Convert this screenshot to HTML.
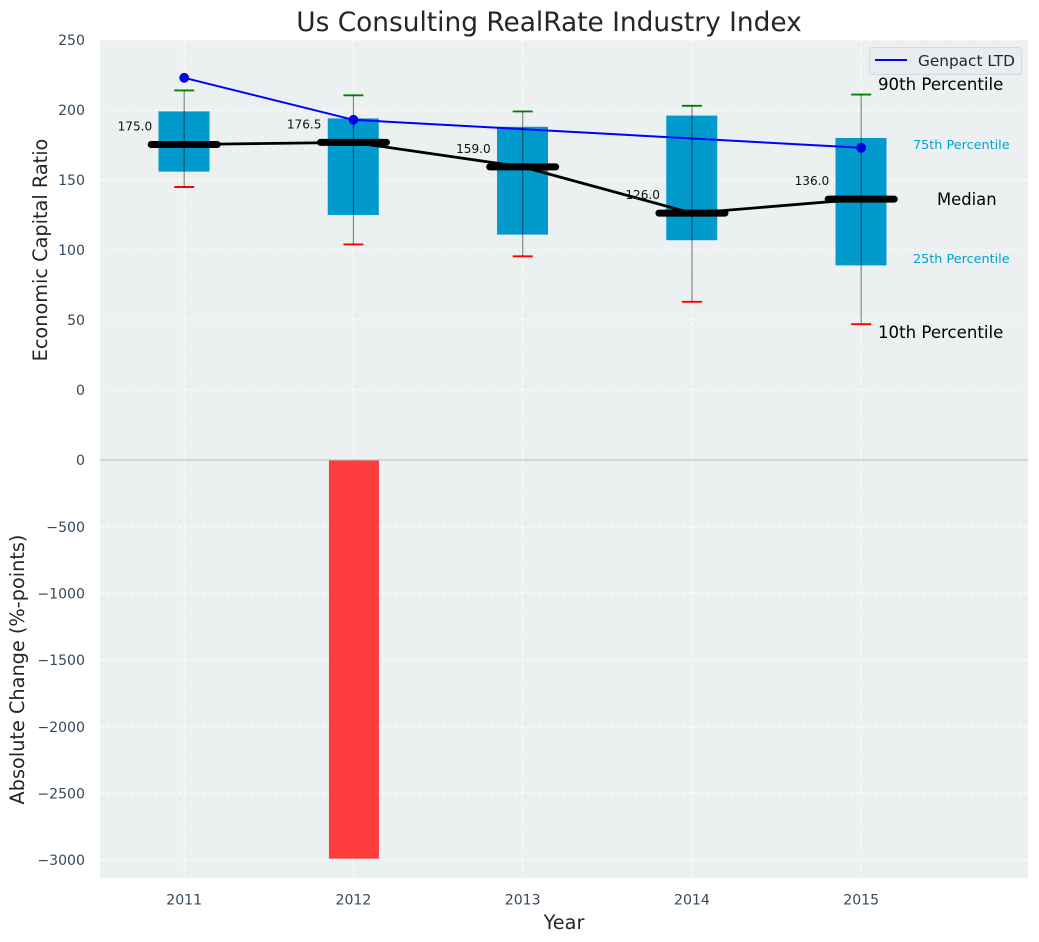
<!DOCTYPE html>
<html>
<head>
<meta charset="utf-8">
<title>Us Consulting RealRate Industry Index</title>
<style>
html,body{margin:0;padding:0;background:#fff;}
svg{display:block;font-family:"DejaVu Sans","Liberation Sans",sans-serif;}
</style>
</head>
<body>
<svg id="chart" xmlns="http://www.w3.org/2000/svg" width="1039" height="942" viewBox="0 0 1039 942"></svg>
<script>
var categories = ['2011', '2012', '2013', '2014', '2015'];
var p10Values = [145, 104, 95.5, 63, 47];
var q1Values = [156, 125, 111, 107, 89];
var medianValues = [175, 176.5, 159, 126, 136];
var q3Values = [199, 194, 188, 196, 180];
var p90Values = [214, 210.5, 199, 203, 211];
var genpactValues = [223, 193, null, null, 173];
var changeValues = [0, -2990, 0, 0, 0];
var topTicks = [0, 50, 100, 150, 200, 250];
var bottomTicks = [0, -500, -1000, -1500, -2000, -2500, -3000];

var svg = document.getElementById('chart');
var NS = 'http://www.w3.org/2000/svg';
function sx(i) { return 184.2 + i * 169.25; }
function syTop(v) { return 390 - v * 1.4; }
function syBottom(v) { return 460 - v * 0.13333; }
function el(tag, attrs, text) {
  var e = document.createElementNS(NS, tag);
  for (var k in attrs) { e.setAttribute(k, attrs[k]); }
  if (text !== undefined) { e.textContent = text; }
  svg.appendChild(e);
  return e;
}
function fmtTick(v) { return v < 0 ? '\u2212' + Math.abs(v) : String(v); }
var node;

node = el('rect', {x: 100, y: 40, width: 928, height: 420, fill: '#ecf0f1'});


node = el('rect', {x: 100, y: 460, width: 928, height: 418, fill: '#ecf0f1'});



var gridStyle = {stroke: '#ffffff', 'stroke-width': 1, 'stroke-dasharray': '4 2', 'stroke-opacity': 0.9};
function grid(x1, y1, x2, y2) {
  var a = {x1: x1, y1: y1, x2: x2, y2: y2};
  for (var k in gridStyle) { a[k] = gridStyle[k]; }
  return el('line', a);
}
topTicks.forEach(function (t) {
  var y = syTop(t);
  node = grid(100, y, 1028, y);
  
  
  node = el('text', {x: 85, y: y + 5.2, 'text-anchor': 'end', 'font-size': 14.1, fill: '#34495e'}, fmtTick(t));
  
  
});
bottomTicks.forEach(function (t) {
  var y = syBottom(t);
  node = grid(100, y, 1028, y);
  
  
  node = el('text', {x: 85, y: y + 5.2, 'text-anchor': 'end', 'font-size': 14.1, fill: '#34495e'}, fmtTick(t));
  
  
});
categories.forEach(function (c, i) {
  var x = sx(i);
  node = grid(x, 40, x, 460);
  
  
  node = grid(x, 460, x, 878);
  
  
  node = el('text', {x: x, y: 904.5, 'text-anchor': 'middle', 'font-size': 14.1, fill: '#34495e'}, c);
  
  
});

categories.forEach(function (c, i) {
  var v = changeValues[i];
  if (!v) { return; }
  node = el('rect', {x: sx(i) - 24.5, y: syBottom(0), width: 50, height: syBottom(v) - syBottom(0), fill: '#ff2020', 'fill-opacity': 0.86});
  
  
});

node = el('line', {x1: 100, y1: 460, x2: 1028, y2: 460, stroke: '#b8bcbc', 'stroke-width': 1});



categories.forEach(function (c, i) {
  var x = sx(i);
  node = el('rect', {x: x - 25.7, y: syTop(q3Values[i]), width: 51, height: syTop(q1Values[i]) - syTop(q3Values[i]), fill: '#009acd'});
  
  
});

var medianPts = medianValues.map(function (v, i) { return sx(i) + ',' + (syTop(v) - 0.5); }).join(' ');
node = el('polyline', {points: medianPts, fill: 'none', stroke: '#000', 'stroke-width': 2.8});



categories.forEach(function (c, i) {
  var x = sx(i);
  node = el('line', {x1: x - 10, y1: syTop(p90Values[i]), x2: x + 10, y2: syTop(p90Values[i]), stroke: '#008000', 'stroke-width': 1.9});
  
  
  node = el('line', {x1: x - 10, y1: syTop(p10Values[i]), x2: x + 10, y2: syTop(p10Values[i]), stroke: '#ff0000', 'stroke-width': 1.9});
  
  
  node = el('line', {x1: x - 33, y1: syTop(medianValues[i]) - 0.5, x2: x + 33, y2: syTop(medianValues[i]) - 0.5, stroke: '#000', 'stroke-width': 7, 'stroke-linecap': 'round'});
  
  
  node = el('text', {x: x - 32, y: syTop(medianValues[i]) - 14.5, 'text-anchor': 'end', 'font-size': 12.1, fill: '#111'}, medianValues[i].toFixed(1));
  
  
});

var genpactPts = [];
genpactValues.forEach(function (v, i) { if (v !== null) { genpactPts.push(sx(i) + ',' + syTop(v)); } });
node = el('polyline', {points: genpactPts.join(' '), fill: 'none', stroke: '#0000ff', 'stroke-width': 2});


genpactValues.forEach(function (v, i) {
  if (v === null) { return; }
  node = el('circle', {cx: sx(i), cy: syTop(v), r: 4.9, fill: '#0000ee'});
  
  
});
categories.forEach(function (c, i) {
  var x = sx(i);
  node = el('line', {x1: x, y1: syTop(p10Values[i]), x2: x, y2: syTop(p90Values[i]), stroke: '#000', 'stroke-opacity': 0.45, 'stroke-width': 1.2});
  
  
});

node = el('text', {x: 549, y: 31, 'text-anchor': 'middle', 'font-size': 26.4, fill: '#262626'}, 'Us Consulting RealRate Industry Index');


node = el('text', {x: 564, y: 929, 'text-anchor': 'middle', 'font-size': 19.3, fill: '#262626'}, 'Year');


node = el('text', {transform: 'translate(47,250) rotate(-90)', 'text-anchor': 'middle', 'font-size': 19.3, fill: '#262626'}, 'Economic Capital Ratio');


node = el('text', {transform: 'translate(24,669.5) rotate(-90)', 'text-anchor': 'middle', 'font-size': 19.3, fill: '#262626'}, 'Absolute Change (%-points)');



node = el('rect', {x: 869.5, y: 47.5, width: 152, height: 27, rx: 3, fill: '#eaecf0', 'fill-opacity': 0.9, stroke: '#d6d8da'});


node = el('line', {x1: 875, y1: 60, x2: 907, y2: 60, stroke: '#0000ff', 'stroke-width': 1.9});


node = el('text', {x: 918, y: 66, 'font-size': 15.3, fill: '#262626'}, 'Genpact LTD');



node = el('text', {x: 878, y: 90, 'font-size': 16.6, fill: '#000'}, '90th Percentile');


node = el('text', {x: 913, y: 149, 'font-size': 12.8, fill: '#00a3d0'}, '75th Percentile');


node = el('text', {x: 937, y: 205, 'font-size': 16.4, fill: '#000'}, 'Median');


node = el('text', {x: 913, y: 263, 'font-size': 12.8, fill: '#00a3d0'}, '25th Percentile');


node = el('text', {x: 878, y: 338, 'font-size': 16.6, fill: '#000'}, '10th Percentile');


</script>
</body>
</html>
